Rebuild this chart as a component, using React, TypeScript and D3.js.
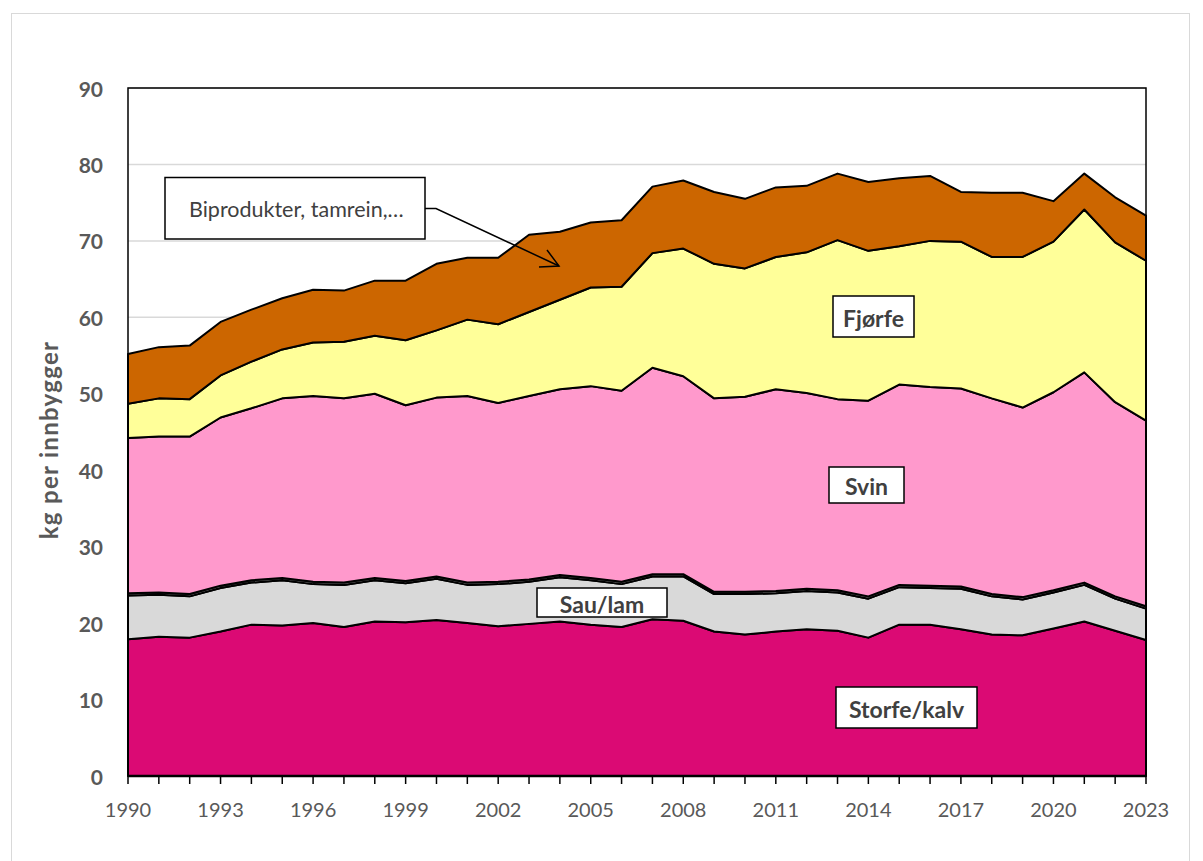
import React from "react";
import * as d3 from "d3";

const years = [1990,1991,1992,1993,1994,1995,1996,1997,1998,1999,2000,2001,2002,2003,2004,2005,2006,2007,2008,2009,2010,2011,2012,2013,2014,2015,2016,2017,2018,2019,2020,2021,2022,2023];

const storfe = [17.9,18.2,18.1,18.9,19.8,19.7,20.0,19.5,20.2,20.1,20.4,20.0,19.6,19.9,20.2,19.8,19.5,20.5,20.3,18.9,18.5,18.9,19.2,19.0,18.1,19.8,19.8,19.2,18.5,18.4,19.3,20.2,19.0,17.8];
const sau = [5.7,5.5,5.4,5.7,5.5,5.9,5.1,5.5,5.4,5.1,5.4,5.0,5.5,5.5,5.8,5.8,5.6,5.6,5.8,4.9,5.3,5.0,5.0,5.0,5.1,4.9,4.8,5.3,5.0,4.7,4.7,4.8,4.2,4.1];
const annet = [0.3,0.3,0.3,0.3,0.3,0.3,0.3,0.3,0.3,0.3,0.3,0.3,0.3,0.3,0.3,0.3,0.3,0.3,0.3,0.3,0.3,0.3,0.3,0.3,0.3,0.3,0.3,0.3,0.3,0.3,0.3,0.3,0.3,0.3];
const svin = [20.3,20.4,20.6,22.0,22.5,23.5,24.3,24.1,24.1,23.0,23.4,24.4,23.4,24.0,24.3,25.1,25.0,27.0,25.9,25.3,25.5,26.4,25.6,25.0,25.6,26.2,26.0,25.9,25.6,24.8,25.9,27.5,25.4,24.3];
const fjorfe = [4.5,5.0,4.9,5.5,6.1,6.4,7.0,7.4,7.6,8.5,8.8,10.0,10.3,11.0,11.7,12.9,13.6,15.0,16.7,17.6,16.8,17.3,18.4,20.8,19.6,18.1,19.1,19.2,18.5,19.7,19.7,21.3,20.9,20.9];
const biprodukter = [6.5,6.7,7.0,7.0,6.8,6.7,6.9,6.7,7.2,7.8,8.7,8.1,8.7,10.1,8.9,8.5,8.7,8.7,8.9,9.4,9.1,9.1,8.7,8.7,9.0,8.9,8.5,6.5,8.4,8.4,5.3,4.7,5.9,5.9];

const yTicks = [0,10,20,30,40,50,60,70,80,90];
const xTickLabels = [1990,1993,1996,1999,2002,2005,2008,2011,2014,2017,2020,2023];

const keys = ["storfe","sau","annet","svin","fjorfe","biprodukter"];
const colors: Record<string,string> = {
  storfe: "#DB0A74",
  sau: "#D9D9D9",
  annet: "#9A9A9A",
  svin: "#FF99CC",
  fjorfe: "#FFFF99",
  biprodukter: "#CC6600",
};

const FONT = "Lato, 'Open Sans', sans-serif";

export default function App() {
  const W = 1203, H = 861;
  const left = 128, right = 1146, top = 88, bottom = 776;
  const x = d3.scaleLinear().domain([1990, 2023]).range([left, right]);
  const y = d3.scaleLinear().domain([0, 90]).range([bottom, top]);

  const table = years.map((yr, i) => ({
    year: yr,
    storfe: storfe[i],
    sau: sau[i],
    annet: annet[i],
    svin: svin[i],
    fjorfe: fjorfe[i],
    biprodukter: biprodukter[i],
  }));
  const series = d3.stack<any>().keys(keys)(table);
  const area = d3.area<any>()
    .x((d) => x(d.data.year))
    .y0((d) => y(d[0]))
    .y1((d) => y(d[1]));

  const labels = [
    { text: "Fjørfe", cx: 873.5, cy: 316.5, w: 81, h: 41 },
    { text: "Svin", cx: 866.5, cy: 485, w: 75, h: 36 },
    { text: "Sau/lam", cx: 602, cy: 602.5, w: 130, h: 29 },
    { text: "Storfe/kalv", cx: 906.5, cy: 707.5, w: 141, h: 41 },
  ];

  return (
    <div style={{ position: "absolute", left: 0, top: 0 }}>
      <svg width={W} height={H} style={{ display: "block", background: "#fff" }}>
        <rect x={11.5} y={13.5} width={1178} height={870} fill="#fff" stroke="#D9D9D9" strokeWidth={1} />
        {yTicks.filter((t) => t > 0).map((t) => (
          <line key={"g" + t} x1={left} x2={right} y1={y(t)} y2={y(t)} stroke="#D9D9D9" strokeWidth={1.5} />
        ))}
        {series.map((s: any) => (
          <path key={s.key} d={area(s) || ""} fill={colors[s.key]} stroke="#000" strokeWidth={2} strokeLinejoin="round" />
        ))}
        <rect x={left} y={top} width={right - left} height={bottom - top} fill="none" stroke="#000" strokeWidth={1.5} />
        <line x1={left} x2={right} y1={bottom} y2={bottom} stroke="#000" strokeWidth={2.5} />
        {years.map((yr) => (
          <line key={"t" + yr} x1={x(yr)} x2={x(yr)} y1={bottom} y2={bottom + 8} stroke="#000" strokeWidth={1.5} />
        ))}
        {yTicks.map((t) => (
          <text key={"y" + t} x={103} y={y(t)} textAnchor="end" dominantBaseline="central"
            fontFamily={FONT} fontWeight={700} fontSize={21} fill="#595959">{t}</text>
        ))}
        {xTickLabels.map((yr) => (
          <text key={"x" + yr} x={x(yr)} y={809} textAnchor="middle" dominantBaseline="central"
            fontFamily={FONT} fontSize={20} fill="#595959">{yr}</text>
        ))}
        <text transform="translate(48,440) rotate(-90)" textAnchor="middle" dominantBaseline="central"
          fontFamily={FONT} fontWeight={700} fontSize={24} letterSpacing={1.3} fill="#595959">kg per innbygger</text>

        {/* callout */}
        <rect x={165} y={177.5} width={260} height={61.5} fill="#fff" stroke="#000" strokeWidth={1.5} />
        <text x={189} y={209} dominantBaseline="central" fontFamily={FONT} fontSize={21.5} fill="#404040">Biprodukter, tamrein,…</text>
        <polyline points="425,208.5 436,208.5 559,266" fill="none" stroke="#000" strokeWidth={1.5} />
        <polyline points="547,250 559,266 539,267" fill="none" stroke="#000" strokeWidth={1.5} />

        {labels.map((l) => (
          <g key={l.text}>
            <rect x={l.cx - l.w / 2} y={l.cy - l.h / 2} width={l.w} height={l.h} fill="#fff" stroke="#000" strokeWidth={1.5} />
            <text x={l.cx} y={l.cy + 1} textAnchor="middle" dominantBaseline="central"
              fontFamily={FONT} fontWeight={700} fontSize={23} fill="#404040">{l.text}</text>
          </g>
        ))}
      </svg>
    </div>
  );
}
